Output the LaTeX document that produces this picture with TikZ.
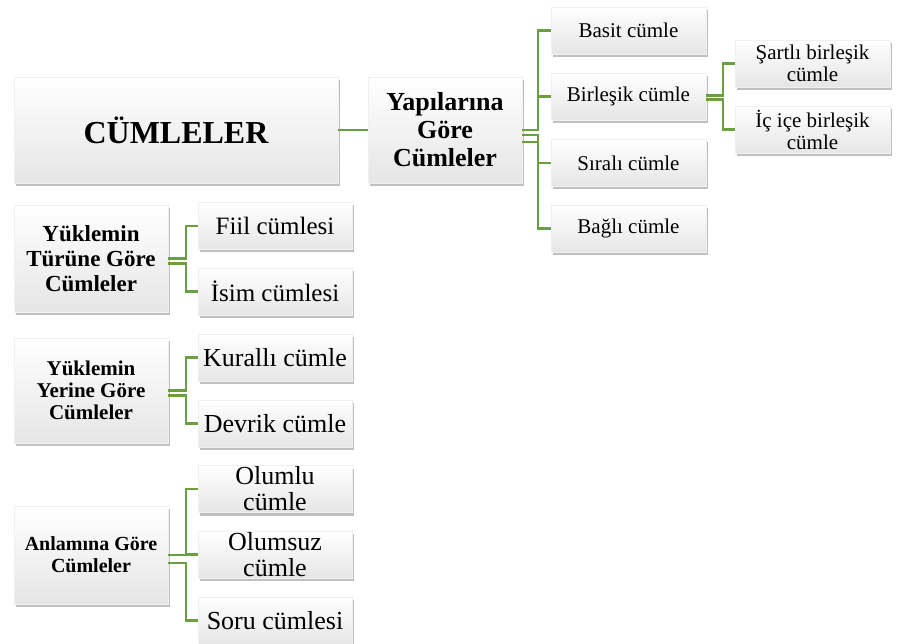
\documentclass[tikz,border=0pt]{standalone}
\usepackage{fontspec}
\setmainfont{Liberation Serif}
\usetikzlibrary{shadows}
\definecolor{linkgreen}{RGB}{106,160,64}
\tikzset{
  box/.style={rectangle, draw=gray!12, top color=white, bottom color=gray!20,
    drop shadow={shadow xshift=1.5pt, shadow yshift=-3pt, opacity=0.55, fill=gray!90},
    align=center, inner sep=0pt},
  bigbox/.style={box, minimum width=154pt, minimum height=106pt},
  leaf/.style={box, minimum width=155pt, minimum height=47pt},
  link/.style={draw=linkgreen, line width=2.3pt},
}
\newcommand\fsz[2]{\fontsize{#1}{#2}\selectfont}
\begin{document}
\begin{tikzpicture}[x=1pt,y=-1pt]
	\useasboundingbox (0,0) rectangle (897,644);
	% root
	\node[box, minimum width=324pt, minimum height=106pt, font=\fsz{32}{34}\bfseries] (root) at (176,130) {CÜMLELER};
	% structure branch
	\node[bigbox, font=\fsz{26}{28}\bfseries] (yapi) at (445,130) {Yapılarına\\Göre\\Cümleler};
	\node[leaf, font=\fsz{21}{22}] (basit) at (628.5,30.5) {Basit cümle};
	\node[leaf, font=\fsz{21}{22}] (birlesik) at (628.5,96.5) {Birleşik cümle};
	\node[leaf, font=\fsz{21}{22}] (sirali) at (628.5,163) {Sıralı cümle};
	\node[leaf, font=\fsz{21}{22}] (bagli) at (628.5,228.5) {Bağlı cümle};
	\node[leaf, font=\fsz{21}{22}] (sartli) at (812.5,63.5) {Şartlı birleşik\\cümle};
	\node[leaf, font=\fsz{21}{22}] (icice) at (812.5,129.5) {İç içe birleşik\\cümle};
	% predicate type
	\node[bigbox, minimum height=107pt, font=\fsz{23}{25}\bfseries] (turune) at (91,258.5) {Yüklemin\\Türüne Göre\\Cümleler};
	\node[leaf, minimum width=154pt, font=\fsz{25}{26}] (fiil) at (275,226) {Fiil cümlesi};
	\node[leaf, minimum width=154pt, font=\fsz{25}{26}] (isim) at (275,291.5) {İsim cümlesi};
	% predicate place
	\node[bigbox, minimum height=105pt, font=\fsz{21}{22}\bfseries] (yerine) at (91,390.5) {Yüklemin\\Yerine Göre\\Cümleler};
	\node[leaf, minimum width=154pt, font=\fsz{26}{27}] (kuralli) at (275,357.5) {Kurallı cümle};
	\node[leaf, minimum width=154pt, font=\fsz{26}{27}] (devrik) at (275,423.5) {Devrik cümle};
	% meaning
	\node[bigbox, minimum height=98pt, font=\fsz{20}{22}\bfseries] (anlam) at (91,555) {Anlamına Göre\\Cümleler};
	\node[leaf, minimum width=154pt, font=\fsz{26}{26}] (olumlu) at (275,489) {Olumlu\\cümle};
	\node[leaf, minimum width=154pt, font=\fsz{26}{26}] (olumsuz) at (275,554.5) {Olumsuz\\cümle};
	\node[leaf, minimum width=154pt, font=\fsz{26}{27}] (soru) at (275,620.5) {Soru cümlesi};
	% links
	\draw[link] (root.east) -- (yapi.west);
	\foreach \c/\s in {basit/0, birlesik/0, sirali/-5, bagli/-12}
		\draw[link] ([yshift=\s pt]yapi.east) -- ++(16,0) |- (\c.west);
	\foreach \c/\s in {sartli/1, icice/-3}
		\draw[link] ([yshift=\s pt]birlesik.east) -- ++(17,0) |- (\c.west);
	\foreach \c/\s in {fiil/0, isim/-5}
		\draw[link] ([yshift=\s pt]turune.east) -- ++(18,0) |- (\c.west);
	\foreach \c/\s in {kuralli/0, devrik/-5}
		\draw[link] ([yshift=\s pt]yerine.east) -- ++(18,0) |- (\c.west);
	\foreach \c/\s in {olumlu/0, olumsuz/0, soru/-8}
		\draw[link] ([yshift=\s pt]anlam.east) -- ++(18,0) |- (\c.west);
\end{tikzpicture}
\end{document}
